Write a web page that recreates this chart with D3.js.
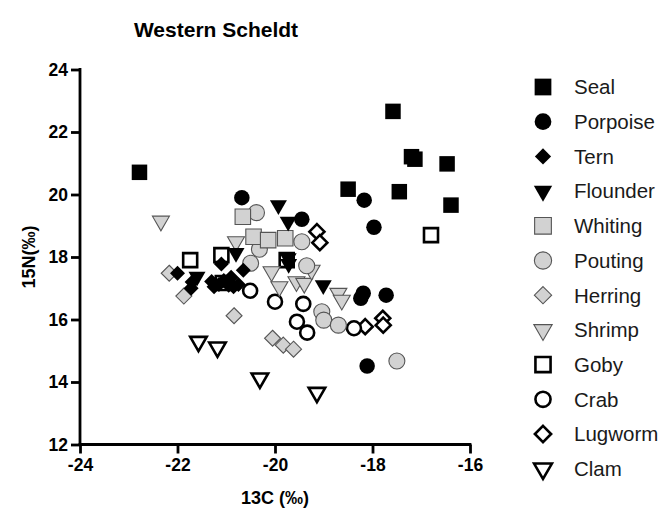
<!DOCTYPE html>
<html>
<head>
<meta charset="utf-8">
<title>Western Scheldt</title>
<script src="https://cdn.jsdelivr.net/npm/d3@7/dist/d3.min.js"></script>
<style>
  body { margin: 0; background: #fff; }
  text { font-family: "Liberation Sans", Arial, sans-serif; }
</style>
</head>
<body>
<script>

// species in legend order
var species = ["Seal", "Porpoise", "Tern", "Flounder", "Whiting", "Pouting",
               "Herring", "Shrimp", "Goby", "Crab", "Lugworm", "Clam"];

// [13C, 15N] pairs
var seal = [[-22.78, 20.71], [-17.58, 22.66], [-17.2, 21.21], [-17.13, 21.13],
            [-16.47, 20.98], [-16.39, 19.66], [-18.5, 20.17], [-17.45, 20.09]];
var porpoise = [[-20.68, 19.9], [-19.45, 19.21], [-18.17, 19.82], [-17.97, 18.95],
                [-18.19, 16.84], [-18.24, 16.68], [-17.72, 16.78], [-18.11, 14.51]];
var tern = [[-22.0, 17.48], [-21.72, 17.0], [-21.7, 17.2], [-21.3, 17.22], [-21.25, 17.05],
            [-21.15, 17.12], [-21.05, 17.25], [-20.95, 17.1], [-20.85, 17.05],
            [-20.75, 17.12], [-21.1, 17.78], [-20.65, 17.58], [-20.9, 17.35]];
var flounder = [[-21.6, 17.37], [-20.8, 18.13], [-19.93, 19.66], [-19.73, 19.13],
                [-19.73, 17.96], [-19.72, 17.78], [-19.01, 17.1]];
var whiting = [[-20.66, 19.29], [-20.44, 18.65], [-20.14, 18.54], [-19.79, 18.6]];
var pouting = [[-20.38, 19.42], [-20.32, 18.25], [-20.5, 17.8], [-19.45, 18.49],
               [-19.35, 17.72], [-19.04, 16.25], [-19.0, 15.98], [-18.7, 15.82],
               [-17.5, 14.67]];
var herring = [[-22.17, 17.48], [-21.87, 16.75], [-20.84, 16.12], [-20.05, 15.4],
               [-19.83, 15.18], [-19.62, 15.05]];
var shrimp = [[-22.34, 19.15], [-20.8, 18.49], [-20.07, 17.53], [-19.91, 17.05],
              [-19.56, 17.21], [-19.4, 17.16], [-19.25, 17.58], [-18.7, 16.84],
              [-18.63, 16.62]];
var goby = [[-21.74, 17.9], [-21.1, 18.06], [-21.07, 17.17], [-19.76, 17.9], [-16.8, 18.7]];
var crab = [[-20.51, 16.92], [-20.0, 16.57], [-19.42, 16.5], [-19.55, 15.93],
            [-19.34, 15.58], [-18.38, 15.72]];
var lugworm = [[-19.14, 18.81], [-19.08, 18.46], [-18.15, 15.77], [-17.79, 16.04],
               [-17.78, 15.82]];
var clam = [[-21.57, 15.29], [-21.18, 15.11], [-20.31, 14.12], [-19.14, 13.66]];

var xTicks = [-24, -22, -20, -18, -16];
var yTicks = [12, 14, 16, 18, 20, 22, 24];

var values = [seal, porpoise, tern, flounder, whiting, pouting,
              herring, shrimp, goby, crab, lugworm, clam];

var width = 662, height = 512;
var svg = d3.select("body").append("svg")
            .attr("width", width)
            .attr("height", height);

var x = d3.scaleLinear().domain([-24, -16]).range([80, 470]);
var y = d3.scaleLinear().domain([12, 24]).range([444.5, 69.5]);

// marker shapes
var triDown = {
  draw: function(ctx, s) {
    var w = s / 2, h = s * 0.866;
    ctx.moveTo(-w, -h / 3);
    ctx.lineTo(w, -h / 3);
    ctx.lineTo(0, 2 * h / 3);
    ctx.closePath();
  }
};
var diamond = {
  draw: function(ctx, s) {
    var r = s / 2;
    ctx.moveTo(0, -r);
    ctx.lineTo(r, 0);
    ctx.lineTo(0, r);
    ctx.lineTo(-r, 0);
    ctx.closePath();
  }
};
var square = {
  draw: function(ctx, s) {
    ctx.rect(-s / 2, -s / 2, s, s);
  }
};
var circle = {
  draw: function(ctx, s) {
    ctx.arc(0, 0, s / 2, 0, 2 * Math.PI);
  }
};

// shape, size (px across), style
var black = { fill: "#000", stroke: "#000", sw: 0 };
var grey = { fill: "#d2d2d2", stroke: "#555", sw: 1.1 };
var open = { fill: "#fff", stroke: "#000", sw: 2.6 };

var marks = [
  { type: square, size: 15.5, st: black },
  { type: circle, size: 15.5, st: black },
  { type: diamond, size: 15, st: black },
  { type: triDown, size: 17, st: black },
  { type: square, size: 15.5, st: grey },
  { type: circle, size: 16, st: grey },
  { type: diamond, size: 16, st: grey },
  { type: triDown, size: 17, st: grey },
  { type: square, size: 14, st: open },
  { type: circle, size: 14, st: open },
  { type: diamond, size: 15, st: open },
  { type: triDown, size: 16.5, st: open }
];

function sym(i, k) {
  return d3.symbol().type(marks[i].type).size(marks[i].size * (k || 1))();
}

// points, last series drawn first
for (var i = species.length - 1; i >= 0; i--) {
  var m = marks[i];
  svg.append("g").selectAll("path")
    .data(values[i])
    .enter().append("path")
    .attr("d", sym(i))
    .attr("transform", function(d) { return "translate(" + x(d[0]) + "," + y(d[1]) + ")"; })
    .attr("fill", m.st.fill)
    .attr("stroke", m.st.stroke)
    .attr("stroke-width", m.st.sw)
    .attr("stroke-linejoin", "miter");
}

// axes
var fmt = function(d) { return String(d); };
var xAxis = svg.append("g")
  .attr("transform", "translate(0,444.5)")
  .call(d3.axisBottom(x).tickValues(xTicks).tickFormat(fmt).tickSize(9).tickPadding(5));
var yAxis = svg.append("g")
  .attr("transform", "translate(80,0)")
  .call(d3.axisLeft(y).tickValues(yTicks).tickFormat(fmt).tickSize(9).tickPadding(3));

[xAxis, yAxis].forEach(function(a) {
  a.select(".domain").attr("stroke-width", 2.8).attr("stroke", "#000");
  a.selectAll(".tick line").attr("stroke-width", 2.8).attr("stroke", "#000");
  a.selectAll(".tick text")
    .attr("font-family", "Liberation Sans, Arial, sans-serif")
    .attr("font-size", 17.5).attr("font-weight", "bold").attr("fill", "#000");
});
xAxis.select(".domain").attr("d", "M78.6,0H471.4");
yAxis.select(".domain").attr("d", "M0,445.9V68.1");

// title and axis labels
svg.append("text")
  .attr("x", 216).attr("y", 37)
  .attr("text-anchor", "middle")
  .attr("font-size", 21).attr("font-weight", "bold")
  .text("Western Scheldt");

svg.append("text")
  .attr("x", 275).attr("y", 504)
  .attr("text-anchor", "middle")
  .attr("font-size", 18).attr("font-weight", "bold")
  .text("13C (‰)");

svg.append("text")
  .attr("transform", "translate(35,257) rotate(-90)")
  .attr("text-anchor", "middle")
  .attr("font-size", 18).attr("font-weight", "bold")
  .text("15N(‰)");

// legend
var legend = svg.append("g");
species.forEach(function(name, i) {
  var ly = 87 + i * 34.7;
  var m = marks[i];
  legend.append("path")
    .attr("d", sym(i, 1.08))
    .attr("transform", "translate(543," + ly + ")")
    .attr("fill", m.st.fill)
    .attr("stroke", m.st.stroke)
    .attr("stroke-width", m.st.sw);
  legend.append("text")
    .attr("x", 574).attr("y", ly)
    .attr("dy", "0.36em")
    .attr("font-size", 20.5)
    .attr("fill", "#1a1a1a")
    .text(name);
});

</script>
</body>
</html>
